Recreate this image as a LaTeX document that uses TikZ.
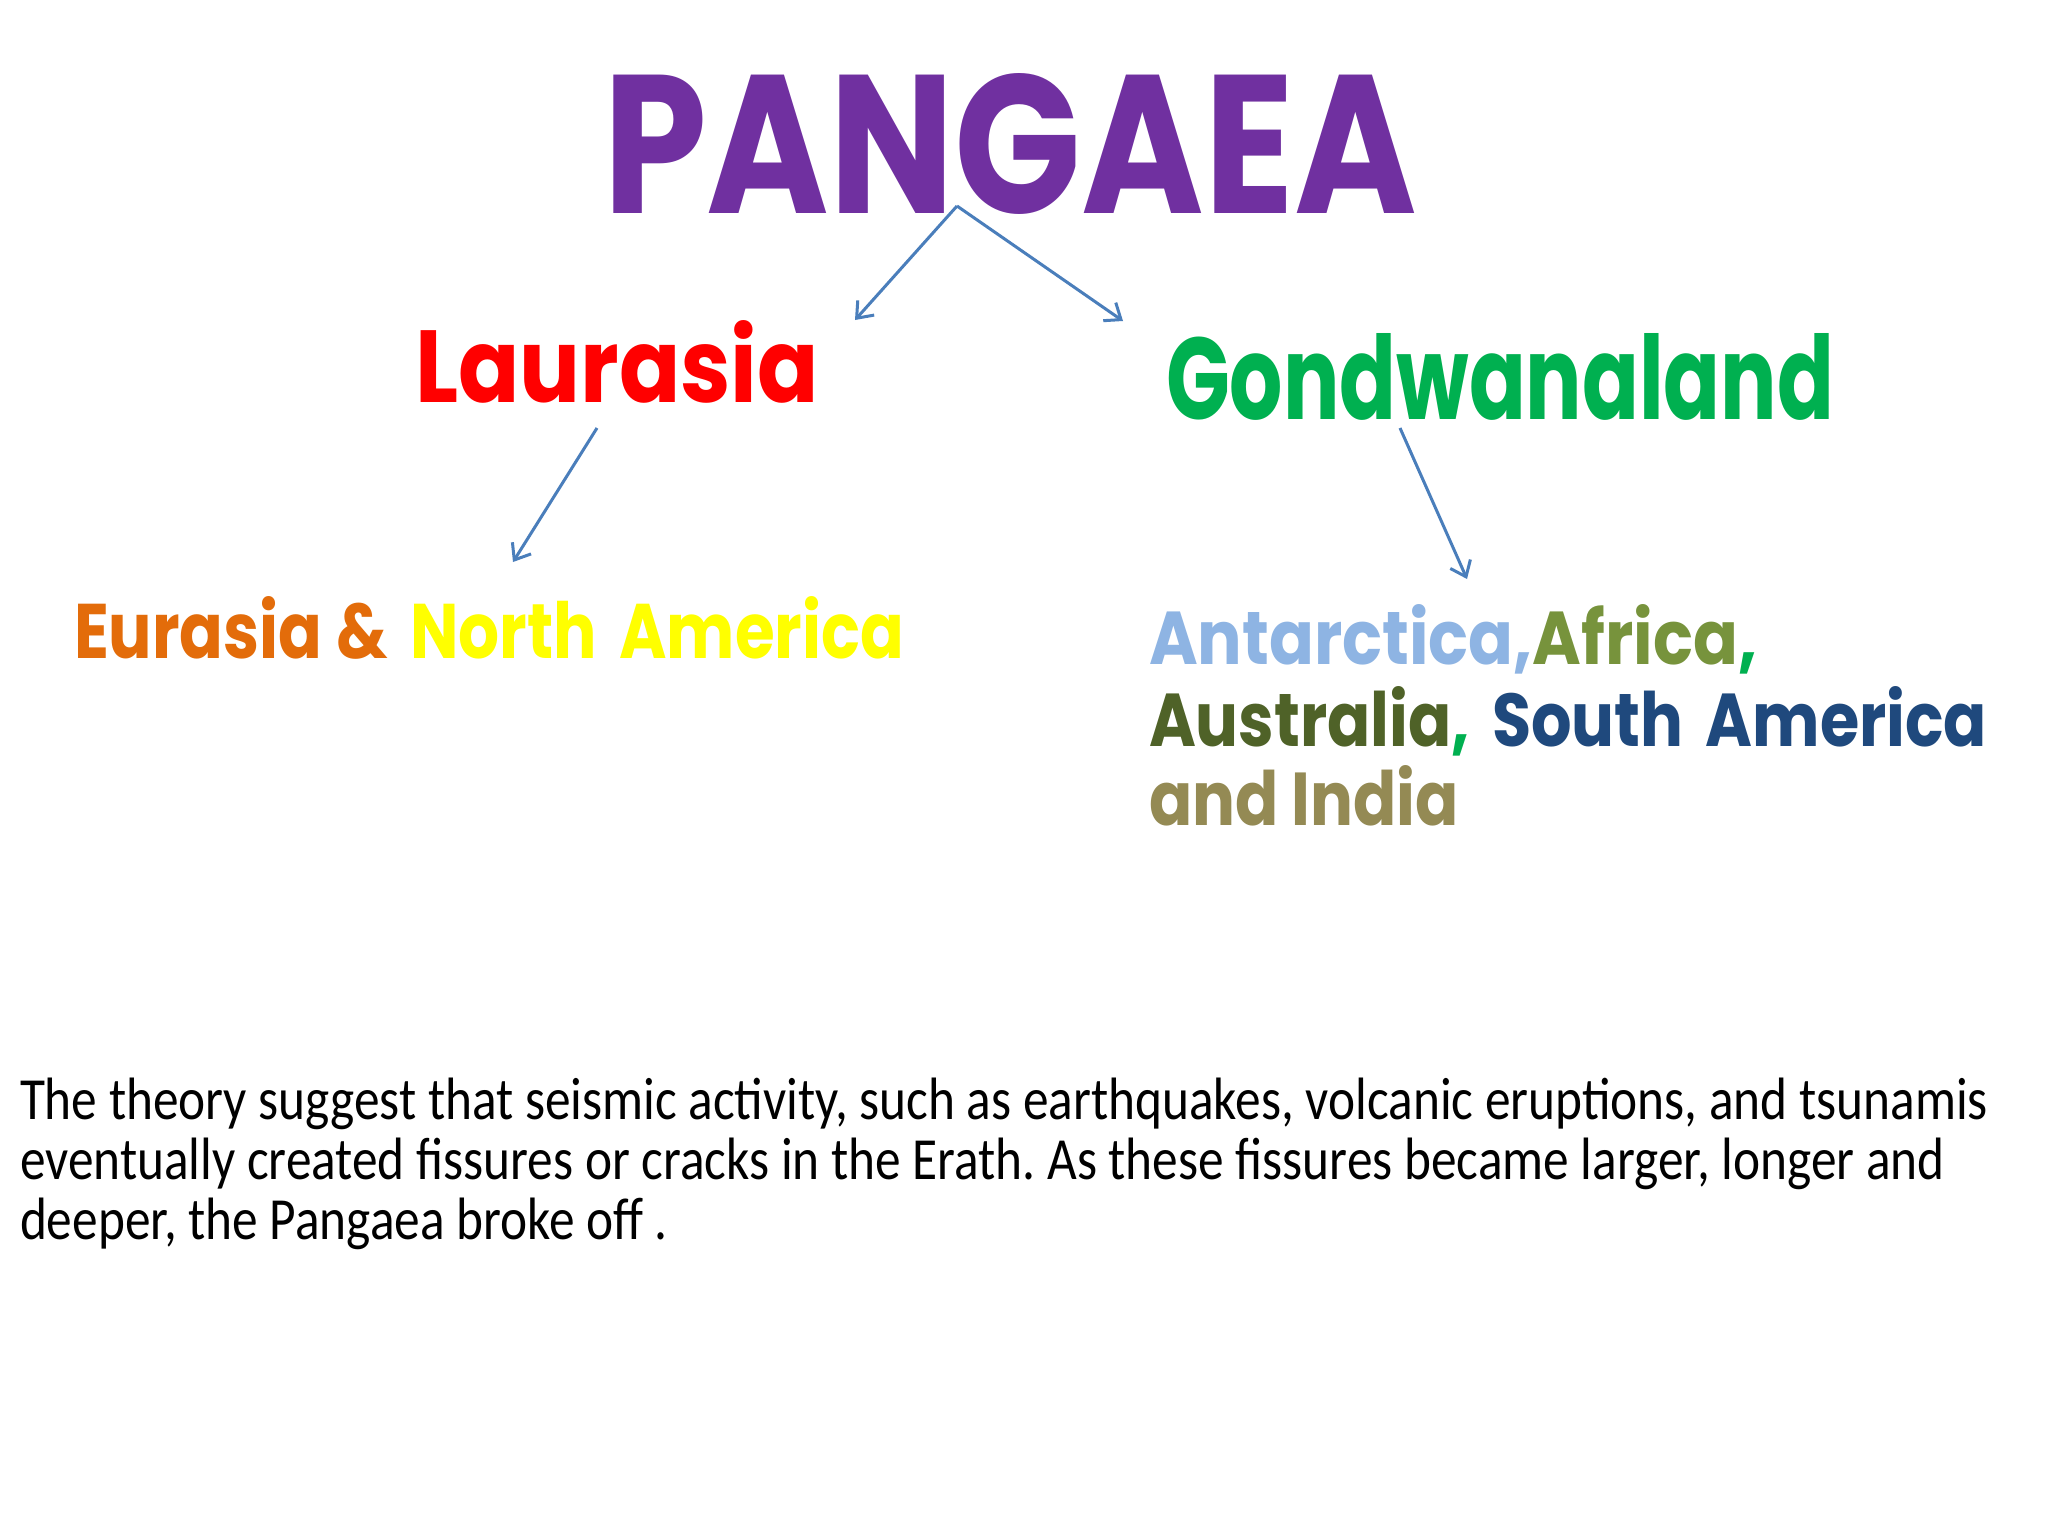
\documentclass[tikz,border=0pt]{standalone}
\usepackage{fontspec}
\setmainfont{Carlito}
\newfontfamily\comic{Poppins}
\usetikzlibrary{arrows.meta}
\definecolor{pangaeac}{HTML}{7030A0}
\definecolor{laurasiac}{HTML}{FF0000}
\definecolor{gondc}{HTML}{00B050}
\definecolor{eurasiac}{HTML}{E36C0A}
\definecolor{northamc}{HTML}{FFFF00}
\definecolor{antarcc}{HTML}{8EB4E3}
\definecolor{africac}{HTML}{77933C}
\definecolor{australc}{HTML}{4F6228}
\definecolor{southamc}{HTML}{1F497D}
\definecolor{indiac}{HTML}{948A54}
\definecolor{arrowblue}{HTML}{4A7EBB}
\newlength\bodyw
\frenchspacing
\begin{document}
\settowidth\bodyw{\fontsize{30}{30}\selectfont The theory suggest that seismic activity, such as earthquakes, volcanic eruptions, and tsunamis}%
\pgfmathsetmacro\bodyscale{987.69/\bodyw}%
\begin{tikzpicture}[x=0.5bp,y=-0.5bp,
  title/.style={anchor=base west, inner sep=0pt, outer sep=0pt, font=\comic\bfseries\fontsize{40}{48}\selectfont},
  body/.style={anchor=base west, inner sep=0pt, outer sep=0pt, font=\fontsize{30}{30}\selectfont, text=black},
  link/.style={draw=arrowblue, line width=1.5bp, -{Straight Barb[length=7bp,width=11bp,line width=1.5bp]}}]
\useasboundingbox[fill=white] (0,0) rectangle (2048,1536);

\node[title, text=pangaeac] (pangaea) at (603,213) {\resizebox{407bp}{70bp}{PANGAEA}};
\node[title, text=laurasiac] (laurasia) at (415,402) {\resizebox{202bp}{41bp}{Laurasia}};
\node[title, text=gondc] (gond) at (1166,419) {\resizebox{334bp}{43bp}{Gondwanaland}};
\node[title] (eur) at (74,658) {\resizebox{415bp}{31bp}{\textcolor{eurasiac}{Eurasia \&}\hspace{0.35em}\textcolor{northamc}{North\hspace{0.35em}America}}};
\node[title] (g1) at (1149,664) {\resizebox{304bp}{30bp}{\textcolor{antarcc}{Antarctica,}\textcolor{africac}{Africa}\textcolor{gondc}{,}}};
\node[title] (g2) at (1149,746) {\resizebox{419bp}{30bp}{\textcolor{australc}{Australia}\textcolor{gondc}{,}\hspace{0.35em}\textcolor{southamc}{South\hspace{0.35em}America}}};
\node[title] (g3) at (1149,825) {\resizebox{155bp}{30bp}{\textcolor{indiac}{and India}}};

\coordinate (pstart) at (957,206);
\coordinate (lend) at (855,320);
\coordinate (gend) at (1123,321);
\coordinate (lstart) at (597,428);
\coordinate (eend) at (513,562);
\coordinate (gstart) at (1400,428);
\coordinate (g1end) at (1467,579);
\draw[link] (pstart) -- (lend);
\draw[link] (pstart) -- (gend);
\draw[link] (lstart) -- (eend);
\draw[link] (gstart) -- (g1end);

\node[body] (b1) at (20,1119) {\scalebox{\bodyscale}[1]{The theory suggest that seismic activity, such as earthquakes, volcanic eruptions, and tsunamis}};
\node[body] (b2) at (20,1179) {\scalebox{\bodyscale}[1]{eventually created fissures or cracks in the Erath. As these fissures became larger, longer and}};
\node[body] (b3) at (20,1239) {\scalebox{\bodyscale}[1]{deeper, the Pangaea broke off .}};
\end{tikzpicture}
\end{document}
